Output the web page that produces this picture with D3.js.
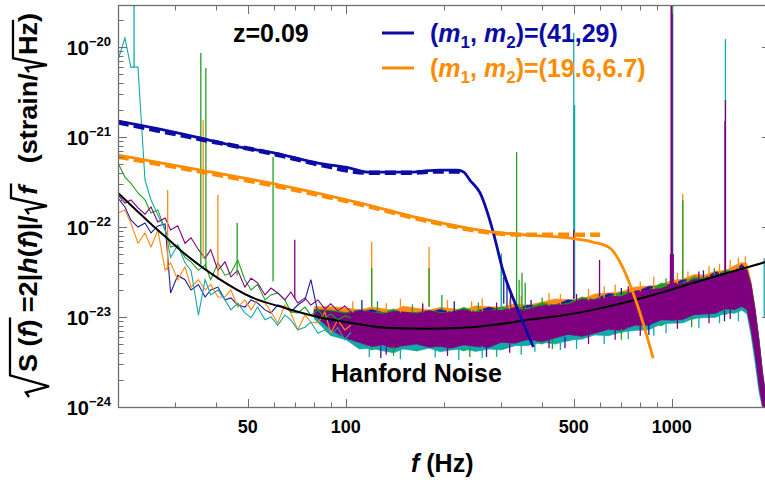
<!DOCTYPE html>
<html>
<head>
<meta charset="utf-8">
<script src="https://cdn.jsdelivr.net/npm/d3@7/dist/d3.min.js"></script>
<style>
html,body{margin:0;padding:0;background:#fff;}
svg{display:block;}
text{font-family:"Liberation Sans",Arial,Helvetica,sans-serif;font-weight:bold;white-space:pre;}
</style>
</head>
<body>
<svg id="chart" width="765" height="482"></svg>
<script>
// ---------------- DATA (amplitudes in units of 1e-23 strain/sqrt(Hz)) ----------------
const UNIT = 1e-23;

// low-frequency part of the five Hanford noise spectra (Hz)
const lowFreq = [20.0,21.0,21.9,23.03,24.2,25.25,26.5,27.9,29.0,30.5,32.1,33.5,35.3,37.0,38.5,40.5,42.6,44.4,46.6,49.0,51.2,53.6,56.5,58.9,61.8,65.0,67.8,71.2,74.9,78.1,82.1,86.2,89.9,94.4,99.2,103.7];
const lowBlue   = [21.0,16.7,12.0,10.0,11.1,8.6,10.3,10.8,1.85,2.9,2.6,2.0,2.3,1.67,2.0,2.15,1.55,1.63,1.36,1.29,1.55,1.43,1.2,1.11,1.36,1.29,1.14,1.36,1.55,2.6,1.11,0.98,0.86,1.03,0.84,0.93];
const lowOrange = [14.3,15.5,11.1,6.6,8.6,6.0,9.3,3.3,4.0,2.6,3.6,2.15,2.6,2.0,2.3,1.67,1.67,2.0,1.29,1.55,1.2,1.55,1.43,1.14,0.86,1.36,1.11,0.72,1.05,0.88,0.86,1.14,0.66,0.93,0.72,0.81];
const lowGreen  = [51.4,35.9,30.8,23.9,20.0,14.3,15.5,9.3,6.0,6.3,4.6,4.1,3.3,3.8,2.6,4.0,2.9,3.1,4.3,2.6,2.0,2.3,1.55,1.76,1.85,1.55,1.14,1.11,1.29,1.05,1.2,0.98,1.08,0.93,1.03,0.98];
const lowCyan   = [717,1259,599,599,33.3,20.0,13.6,9.3,4.6,6.3,4.0,3.3,1.05,2.6,1.76,2.0,1.55,1.2,1.43,1.11,0.98,1.29,0.93,1.0,0.81,1.05,0.93,0.72,0.77,0.88,0.66,0.72,0.63,0.76,0.56,0.68];
const lowPurple = [22.7,18.5,20.0,16.3,13.9,16.7,11.4,12.6,9.3,10.3,6.6,7.6,5.6,4.5,5.6,3.3,4.1,2.8,3.3,2.15,2.7,2.4,1.76,2.1,1.85,1.55,1.9,1.43,1.63,1.36,1.55,1.23,1.4,1.17,1.33,1.14];

// dense high-frequency part: upper / lower envelope of each spectrum (Hz)
const bandFreq = [80,90,100,110,120,130,140,150,165,180,195,210,230,250,275,300,330,360,400,440,480,530,580,640,700,770,850,930,1000,1080,1170,1260,1360,1460,1560,1640,1700,1750,1800,1850,1900,1950];
const bandOrangeHi = [1.30,1.30,1.27,1.20,1.29,1.24,1.18,1.32,1.25,1.20,1.28,1.24,1.20,1.33,1.30,1.29,1.40,1.35,1.47,1.59,1.56,1.58,1.80,1.85,1.91,2.15,2.21,2.29,2.57,2.63,2.97,2.93,3.24,3.28,3.74,4.04,3.93,2.49,1.27,0.56,0.235,0.121];
const bandOrangeLo = [1.05,0.75,0.65,0.54,0.52,0.51,0.51,0.51,0.51,0.51,0.51,0.51,0.51,0.51,0.52,0.54,0.56,0.58,0.60,0.63,0.65,0.68,0.71,0.76,0.80,0.85,0.91,0.96,1.0,1.06,1.11,1.17,1.22,1.27,1.33,1.38,1.30,0.78,0.41,0.19,0.105,0.093];
const bandBlueHi = [1.2,1.15,1.12,1.12,1.21,1.12,1.12,1.12,1.12,1.12,1.22,1.13,1.14,1.15,1.29,1.19,1.22,1.36,1.31,1.36,1.56,1.49,1.57,1.83,1.76,1.87,2.2,2.13,2.27,2.62,2.55,2.7,3.17,3.05,3.25,3.86,3.3,2.27,1.2,0.555,0.227,0.12];
const bandBlueLo = [1.0,0.7,0.60,0.45,0.48,0.47,0.47,0.47,0.47,0.47,0.42,0.47,0.47,0.42,0.48,0.50,0.52,0.49,0.56,0.58,0.54,0.63,0.66,0.63,0.74,0.79,0.76,0.89,0.93,0.88,1.03,1.08,1.02,1.18,1.23,1.28,1.2,0.72,0.378,0.175,0.1,0.088];
const bandGreenHi = [1.22,1.2,1.12,1.21,1.12,1.12,1.23,1.12,1.12,1.19,1.12,1.13,1.28,1.15,1.17,1.30,1.22,1.26,1.44,1.36,1.42,1.67,1.57,1.66,1.90,1.87,2.0,2.39,2.27,2.4,2.81,2.7,2.88,3.32,3.25,3.45,3.3,2.27,1.2,0.555,0.227,0.12];
const bandGreenLo = [1.02,0.72,0.60,0.50,0.43,0.47,0.47,0.47,0.42,0.47,0.47,0.47,0.42,0.47,0.48,0.46,0.52,0.54,0.50,0.58,0.60,0.57,0.66,0.70,0.67,0.79,0.84,0.80,0.93,0.98,0.95,1.08,1.13,1.06,1.23,1.28,1.2,0.72,0.378,0.175,0.1,0.088];
const bandCyanHi = [1.15,1.1,1.06,1.06,1.06,1.06,1.06,1.06,1.06,1.06,1.06,1.07,1.08,1.09,1.11,1.13,1.16,1.20,1.24,1.29,1.35,1.42,1.49,1.58,1.67,1.78,1.9,2.02,2.16,2.28,2.42,2.57,2.74,2.9,3.09,3.6,3.14,2.16,1.14,0.53,0.22,0.11];
const bandCyanLo = [0.95,0.62,0.56,0.44,0.45,0.42,0.40,0.44,0.42,0.45,0.41,0.43,0.44,0.415,0.44,0.43,0.48,0.48,0.525,0.50,0.55,0.57,0.63,0.62,0.68,0.71,0.72,0.84,0.85,0.86,0.97,0.98,0.99,1.11,1.10,1.19,1.08,0.62,0.31,0.147,0.095,0.088];
const bandPurpleHi = [1.2,1.16,1.09,1.18,1.12,1.08,1.16,1.14,1.09,1.18,1.10,1.13,1.21,1.12,1.19,1.18,1.28,1.21,1.35,1.36,1.38,1.58,1.55,1.69,1.69,1.94,2.02,2.07,2.38,2.35,2.63,2.62,3.0,3.05,3.19,3.59,3.3,2.27,1.2,0.555,0.227,0.12];
const bandPurpleLo = [1.05,0.72,0.58,0.52,0.47,0.49,0.45,0.48,0.50,0.46,0.47,0.45,0.49,0.47,0.46,0.525,0.51,0.56,0.53,0.59,0.64,0.61,0.66,0.73,0.71,0.81,0.81,0.93,0.92,0.94,1.06,1.08,1.10,1.23,1.21,1.31,1.2,0.72,0.378,0.175,0.1,0.088];

// spectral lines and small excursions: [frequency Hz, base, tip]
const spikesBlue   = [[305,1.4,2.78],[312,1.3,2.4],[320,1.2,2.0],
  [112,1.12,1.55],[215,1.13,1.5],[370,1.26,1.55],[700,1.76,2.1],[1250,2.7,3.3],
  [128,0.47,0.35],[270,0.475,0.36],[470,0.6,0.45],[850,0.84,0.63],[1450,1.18,0.9]];
const spikesOrange = [[28.4,3.3,25.8],[36.5,4.5,154],[40.5,2.6,22.7],[120,1.3,6.8],[180,1.3,6.0],[1080,2.6,23.3],
  [105,1.12,1.5],[133,1.12,1.42],[147,1.12,1.6],[172,1.12,1.45],[205,1.13,1.55],[243,1.15,1.5],[262,1.16,1.62],[318,1.21,1.6],
  [345,1.24,1.72],[420,1.33,1.85],[455,1.38,1.8],[555,1.53,2.05],[620,1.63,2.2],[670,1.71,2.3],[800,1.92,2.5],[880,2.05,2.8],
  [1040,2.33,3.1],[1120,2.47,3.2],[1300,2.77,3.7],[1400,2.95,3.9],[1510,3.15,4.3],[1600,3.35,4.6],[1680,3.4,4.7]];
const spikesGreen  = [[35.9,3.8,858],[37.2,3.5,584],[46.4,2.9,11.1],[59.8,2.5,59.9],[120,1.3,3.5],[180,1.3,3.5],[197,1.2,1.76],[300,1.2,4.5],[334,1.2,68],[340,1.2,2.6],[347,1.2,3.1],[355,1.2,2.4],[1080,2.6,20],
  [125,1.12,1.5],[160,1.12,1.38],[255,1.15,1.45],[400,1.31,1.65],[600,1.6,1.95],[960,2.19,2.7],[1350,2.88,3.5],
  [140,0.47,0.37],[240,0.47,0.36],[430,0.57,0.44],[700,0.74,0.56],[1150,0.99,0.77]];
const spikesCyan   = [[22.4,599,4000],[300,1.2,5.1],[500,1.6,1431],[503,1.6,227],[1006,2.2,4000],[1460,3.0,1227],[1920,0.98,4.5],
  [118,0.48,0.36],[147,0.47,0.34],[188,0.47,0.355],[222,0.47,0.33],[262,0.475,0.35],[290,0.49,0.36],[345,0.53,0.38],[380,0.55,0.41],
  [455,0.59,0.43],[510,0.62,0.44],[620,0.69,0.5],[735,0.77,0.57],[880,0.86,0.62],[960,0.91,0.66],[1210,1.05,0.75],[1400,1.15,0.85],[1600,1.25,0.9]];
const spikesPurple = [[69.7,1.6,7.2],[500,1.6,9.3],[600,1.7,4.3],[990,2.2,5.0],[995,2.2,3000],[998,2.2,4000],[1002,2.2,4000],[1010,2.2,5.0],[1455,3.0,150],[1460,3.0,258],
  [133,0.47,0.38],[205,0.47,0.37],[318,0.51,0.40],[420,0.57,0.45],[555,0.645,0.5],[670,0.72,0.56],[800,0.81,0.62],[1040,0.95,0.74],[1300,1.10,0.85],[1510,1.2,0.95],
  [172,1.12,1.4],[290,1.18,1.45],[510,1.46,1.8],[735,1.82,2.2],[1210,2.62,3.2]];

// black fit to the noise
const fitFreq = [20,22.55,25.25,28.46,32.1,40.5,51.2,65.0,82.1,103.7,136,177,224,283,360,454,573,728,920,1161,1476,1931,2000];
const fitVal  = [23.9,15.85,10.8,7.36,5.01,2.71,1.67,1.26,1.0,0.86,0.755,0.74,0.755,0.815,0.926,1.03,1.2,1.47,1.85,2.39,3.08,4.08,4.25];

// signals
const blueFreq     = [20,26.9,35.9,47.3,60.6,82.1,103,117,157,194,220,230,240,258,282,303,334,376];
const blueVal      = [150.6,122.7,97.5,77.4,66.4,51.4,45.2,40.8,40.8,43.0,43.0,40.8,33.3,23.9,9.26,3.33,1.29,0.464];
const blueDashFreq = [20,35.9,60.6,82.1,117,157,194,224];
const blueDashVal  = [146,94.5,64.5,49.9,40.2,40.2,41.5,41.5];
const orangeFreq     = [20,35.9,62.8,110.6,177.6,282,360,510,572,646,706,780,876];
const orangeVal      = [63.1,43.0,29.3,18.5,12.0,8.80,8.15,7.36,6.81,5.84,3.59,1.43,0.35];
const orangeDashFreq = [20,35.9,62.8,110.6,177.6,282,360,602];
const orangeDashVal  = [60.5,41.3,28.0,17.9,11.7,8.6,8.2,8.2];

// ticks / labels
const xMajorTicks = [50,100,500,1000];
const xMinorTicks = [30,40,60,70,80,90,200,300,400,600,700,800,900,2000];
const yExponents  = [-20,-21,-22,-23,-24];
const massPairs   = [["41","29"],["19.6","6.7"]];
const redshiftLabel = "z=0.09";
const noiseLabel = "Hanford Noise";

// ---------------- DRAWING ----------------
const svg = d3.select("#chart");
const x = d3.scaleLog().domain([20,2000]).range([118,770]);
const y = d3.scaleLog().domain([1e-24,2.86e-20]).range([407,6]);

const C = {blue:"#1c1ca2", orange:"#ff8a14", green:"#20a020", cyan:"#12a9a9", purple:"#7f007f"};
const SIG_BLUE = "#0b0ba6", SIG_ORANGE = "#ff8c00";

svg.append("defs").append("clipPath").attr("id","clip")
  .append("rect").attr("x",118).attr("y",6).attr("width",652).attr("height",401);
const plot = svg.append("g").attr("clip-path","url(#clip)");

const line = d3.line().x(d=>x(d[0])).y(d=>y(d[1]*UNIT));
const smooth = d3.line().x(d=>x(d[0])).y(d=>y(d[1]*UNIT)).curve(d3.curveMonotoneX);
const area = d3.area().x(d=>x(d[0])).y0(d=>y(d[2]*UNIT)).y1(d=>y(d[1]*UNIT));
const zip = (fs, vs) => fs.map((f,i)=>[f, vs[i]]);
const zip3 = (fs, hi, lo) => fs.map((f,i)=>[f, hi[i], lo[i]]);

// dense bands
[[bandOrangeHi,bandOrangeLo,C.orange],[bandBlueHi,bandBlueLo,C.blue],[bandGreenHi,bandGreenLo,C.green],
 [bandCyanHi,bandCyanLo,C.cyan],[bandPurpleHi,bandPurpleLo,C.purple]].forEach(([hi,lo,c])=>{
  plot.append("path").attr("d", area(zip3(bandFreq, hi, lo))).attr("fill",c).attr("stroke",c).attr("stroke-width",0.6);
});

// low-frequency noise lines
[[lowBlue,C.blue],[lowOrange,C.orange],[lowGreen,C.green],[lowCyan,C.cyan],[lowPurple,C.purple]].forEach(([v,c])=>{
  plot.append("path").attr("d", line(zip(lowFreq, v))).attr("fill","none").attr("stroke",c).attr("stroke-width",1.1);
});

// spikes / excursions
[[spikesBlue,C.blue],[spikesOrange,C.orange],[spikesGreen,C.green],[spikesCyan,C.cyan],[spikesPurple,C.purple]].forEach(([arr,c])=>{
  plot.selectAll(null).data(arr).enter().append("line")
    .attr("x1",d=>x(d[0])).attr("x2",d=>x(d[0]))
    .attr("y1",d=>y(d[1]*UNIT)).attr("y2",d=>y(d[2]*UNIT))
    .attr("stroke",c).attr("stroke-width",1.3);
});

// fit
plot.append("path").attr("d", smooth(zip(fitFreq, fitVal))).attr("fill","none").attr("stroke","#000").attr("stroke-width",2);

// signals
plot.append("path").attr("d", smooth(zip(blueDashFreq, blueDashVal))).attr("fill","none").attr("stroke",SIG_BLUE).attr("stroke-width",4.5).attr("stroke-dasharray","11,5");
plot.append("path").attr("d", smooth(zip(orangeDashFreq, orangeDashVal))).attr("fill","none").attr("stroke",SIG_ORANGE).attr("stroke-width",4.5).attr("stroke-dasharray","11,5");
plot.append("path").attr("d", smooth(zip(blueFreq, blueVal))).attr("fill","none").attr("stroke",SIG_BLUE).attr("stroke-width",2.8);
plot.append("path").attr("d", smooth(zip(orangeFreq, orangeVal))).attr("fill","none").attr("stroke",SIG_ORANGE).attr("stroke-width",2.8);

// frame + ticks
const FR = "#6f6f6f";
svg.append("rect").attr("x",118.5).attr("y",5.5).attr("width",651.5).attr("height",402)
  .attr("fill","none").attr("stroke",FR).attr("stroke-width",1.3);
const tickG = svg.append("g").attr("stroke",FR).attr("stroke-width",1);
xMajorTicks.concat(xMinorTicks).forEach(f=>{
  const L = xMajorTicks.includes(f) ? 8 : 4.5;
  const xp = Math.round(x(f))+0.5;
  tickG.append("line").attr("x1",xp).attr("x2",xp).attr("y1",407).attr("y2",407-L);
  tickG.append("line").attr("x1",xp).attr("x2",xp).attr("y1",6).attr("y2",6+L);
});
const yMinor = [];
for (let e=-24; e<=-20; e++) for (let m=2; m<=9; m++) { const v = m*Math.pow(10,e); if (v < 2.86e-20) yMinor.push(v); }
yExponents.forEach(e=>{
  const yp = Math.round(y(Math.pow(10,e)))+0.5;
  tickG.append("line").attr("x1",119).attr("x2",127).attr("y1",yp).attr("y2",yp);
  tickG.append("line").attr("x1",770).attr("x2",762).attr("y1",yp).attr("y2",yp);
});
yMinor.forEach(v=>{
  const yp = Math.round(y(v))+0.5;
  tickG.append("line").attr("x1",119).attr("x2",123.5).attr("y1",yp).attr("y2",yp);
  tickG.append("line").attr("x1",770).attr("x2",765.5).attr("y1",yp).attr("y2",yp);
});

// tick labels
xMajorTicks.forEach(f=>{
  svg.append("text").attr("x",x(f)).attr("y",433).attr("text-anchor","middle").attr("font-size",18).text(String(f));
});
yExponents.forEach(e=>{
  const t = svg.append("text").attr("x",111).attr("y",y(Math.pow(10,e))+8).attr("text-anchor","end").attr("font-size",20);
  t.append("tspan").text("10");
  t.append("tspan").attr("font-size",13).attr("dy",-9).text("\u2212"+Math.abs(e));
});

// x axis label
{
  const t = svg.append("text").attr("x",411).attr("y",472).attr("font-size",25);
  t.append("tspan").attr("font-style","italic").text("f");
  t.append("tspan").text(" (Hz)");
}

// y axis label
{
  const yLabelParts = [
    {rad:24, over:-27, bottom:12, parts:[["S",0],[" (",0],["f",1],[")",0]]},
    {parts:[[" =2",0],["|",0],["h",1],["(",0],["f",1],[")",0],["|",0],["/",0]]},
    {rad:19, over:-26, bottom:10, parts:[["f",1]]},
    {parts:[["   (strain/",0]]},
    {rad:17, over:-24, bottom:10, parts:[["Hz",0]]},
    {parts:[[")",0]]}
  ];
  const g = svg.append("g");
  let cx = 0;
  yLabelParts.forEach(seg=>{
    const x0 = cx;
    if (seg.rad) cx += seg.rad;
    seg.parts.forEach(([s,it])=>{
      const t = g.append("text").attr("x",cx).attr("y",0).attr("font-size",25)
        .attr("font-style", it ? "italic" : "normal").text(s);
      cx += t.node().getComputedTextLength();
    });
    if (seg.rad) {
      const w = seg.rad;
      g.append("path").attr("d",`M${x0+1},-8 L${x0+5},-11 L${x0+w*0.45},${seg.bottom} L${x0+w-3},${seg.over} L${cx+2},${seg.over}`)
        .attr("fill","none").attr("stroke","#000").attr("stroke-width",2.3);
    }
  });
  const k = 385 / cx;
  g.attr("transform",`translate(37,398) rotate(-90) scale(${k},1)`);
}

// annotations
svg.append("text").attr("x",233).attr("y",42).attr("font-size",25).attr("fill","#000").text(redshiftLabel);
svg.append("text").attr("x",331).attr("y",382).attr("font-size",25).attr("fill","#000").text(noiseLabel);

// legend
const legendRows = [{pair:massPairs[0], color:SIG_BLUE, ly:33, by:42},{pair:massPairs[1], color:SIG_ORANGE, ly:68, by:77}];
legendRows.forEach(r=>{
  svg.append("line").attr("x1",382).attr("x2",414).attr("y1",r.ly).attr("y2",r.ly).attr("stroke",r.color).attr("stroke-width",3);
  const t = svg.append("text").attr("x",430).attr("y",r.by).attr("font-size",25).attr("fill",r.color);
  t.append("tspan").text("(");
  t.append("tspan").attr("font-style","italic").text("m");
  t.append("tspan").attr("font-size",17).attr("dy",6).text("1");
  t.append("tspan").attr("dy",-6).text(", ");
  t.append("tspan").attr("font-style","italic").text("m");
  t.append("tspan").attr("font-size",17).attr("dy",6).text("2");
  t.append("tspan").attr("dy",-6).text(")=("+r.pair[0]+","+r.pair[1]+")");
});
</script>
</body>
</html>
